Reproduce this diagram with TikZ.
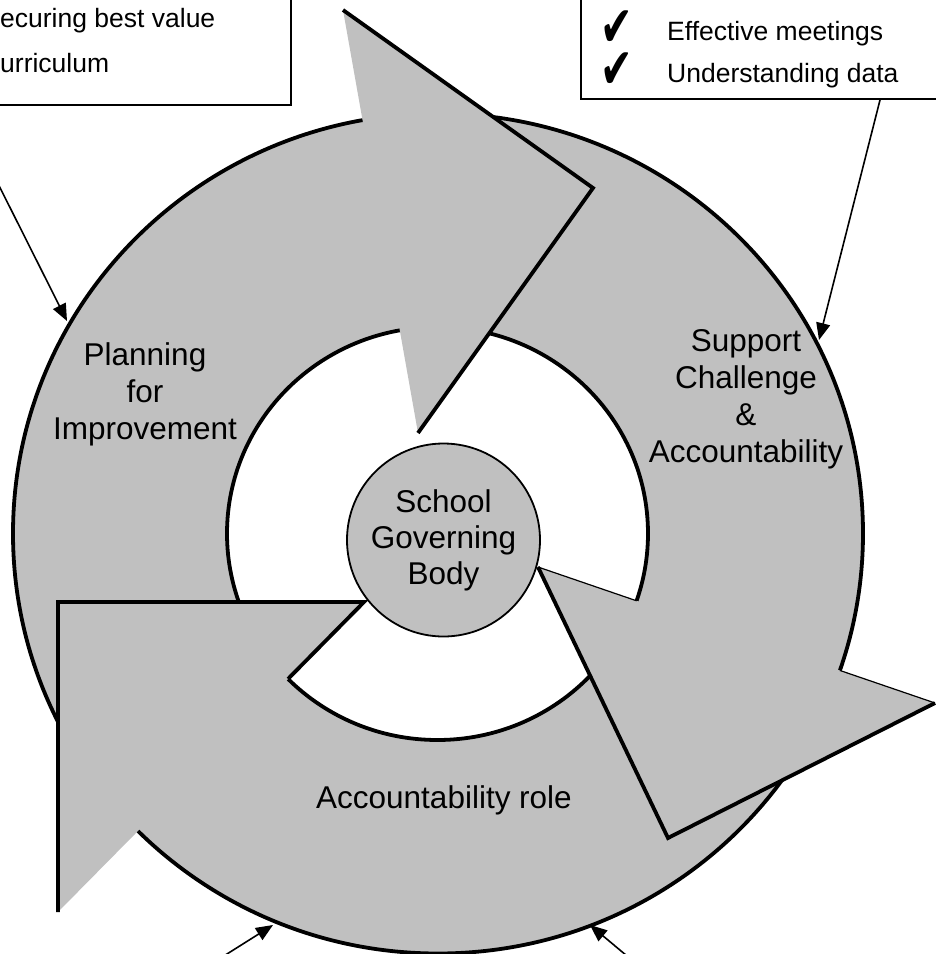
\documentclass[tikz,border=0pt]{standalone}
\usepackage{fontspec}
\setmainfont{Liberation Sans}
\newfontfamily\checkfont{DejaVu Sans}
\usetikzlibrary{arrows.meta,intersections}
\definecolor{ringgray}{RGB}{192,192,192}
\begin{document}
\begin{tikzpicture}[x=1pt,y=-1pt,
  ringline/.style={line width=3.8pt},
  headedge/.style={line width=3.8pt,line join=miter,line cap=butt},
  thinedge/.style={line width=1.2pt},
  lbl/.style={align=center,inner sep=0pt,font=\fontsize{31.5}{37}\selectfont},
  boxtext/.style={anchor=base west,inner sep=0pt,font=\fontsize{26.5}{30}\selectfont},
  infobox/.style={draw,line width=2pt,minimum width=420pt,minimum height=160pt,inner sep=0pt},
  conn/.style={line width=1.6pt,-{Triangle[length=17pt,width=14pt]}},
  chk/.style={anchor=base west,inner sep=0pt,align=left,font=\checkfont\fontsize{54}{42}\selectfont}
]
\useasboundingbox (0,0) rectangle (936,954);

% information boxes (partly outside the picture)
\node[infobox,anchor=south east] (lbox) at (292,106) {};
\node[infobox,anchor=south west] (rbox) at (580,100) {};
\node[boxtext] (l1) at (0,27) {ecuring best value};
\node[boxtext] (l2) at (0,72) {urriculum};
\node[chk] (ticks) at (600,88) {\scalebox{0.72}[1.05]{✔}\\\scalebox{0.72}[1.05]{✔}};
\node[boxtext] (r1) at (667,40) {Effective meetings};
\node[boxtext] (r2) at (667,82) {Understanding data};

% ring
\fill[ringgray,even odd rule] (438,533.5) ellipse [x radius=425pt,y radius=420pt]
  (437.5,533.5) ellipse [x radius=210.5pt,y radius=206.5pt];
\draw[ringline,name path=outer] (438,533.5) ellipse [x radius=425pt,y radius=420pt];
\draw[ringline,name path=inner] (437.5,533.5) ellipse [x radius=210.5pt,y radius=206.5pt];

% arrow heads
\coordinate (h1o) at (343,10);
\coordinate (h1t) at (593,188);
\coordinate (h1i) at (418,433);
\coordinate (h2i) at (538,567);
\coordinate (h2o) at (935,703);
\coordinate (h2t) at (668,838);
\coordinate (h3t) at (58,602);
\coordinate (h3i) at (364,602);
\coordinate (h3o) at (58,912);

\path[name path=b2] (h2i) -- (h2o);
\path[name intersections={of=b2 and inner,by=b2in}];
\path[name intersections={of=b2 and outer,by=b2out}];
\path[name path=b3] (h3i) -- (h3o);
\path[name intersections={of=b3 and inner,by=b3in}];

\fill[ringgray] (h1o) -- (h1t) -- (h1i) -- cycle;
\draw[headedge] (h1o) -- (h1t) -- (h1i);
\fill[ringgray] (h2i) -- (h2o) -- (h2t) -- cycle;
\draw[headedge] (h2o) -- (h2t) -- (h2i);
\draw[thinedge] (h2i) -- (b2in);
\draw[thinedge] (b2out) -- (h2o);
\fill[ringgray] (h3t) -- (h3i) -- (h3o) -- cycle;
\draw[headedge] (b3in) -- (h3i) -- (h3t) -- (h3o);

% centre
\node[circle,draw,fill=ringgray,line width=1.8pt,minimum size=193pt,inner sep=0pt,
  align=center,font=\fontsize{31.5}{36}\selectfont] (sgb) at (443.5,540) {School\\Governing\\Body};

% labels
\node[lbl] (plan) at (145,394) {Planning\\for\\Improvement};
\node[lbl] (supp) at (746,399) {Support\\Challenge\\\&\\Accountability};
\node[lbl,anchor=base] (acc) at (444,808) {Accountability role};

% connectors
\coordinate (c1s) at (-41,106);
\coordinate (c1e) at (67,321);
\coordinate (c2s) at (880,100);
\coordinate (c2e) at (819,340);
\coordinate (c3s) at (200,971);
\coordinate (c3e) at (273,925);
\coordinate (c4s) at (645,971);
\coordinate (c4e) at (590,925);
\draw[conn] (c1s) -- (c1e);
\draw[conn] (c2s) -- (c2e);
\draw[conn] (c3s) -- (c3e);
\draw[conn] (c4s) -- (c4e);
\end{tikzpicture}
\end{document}
